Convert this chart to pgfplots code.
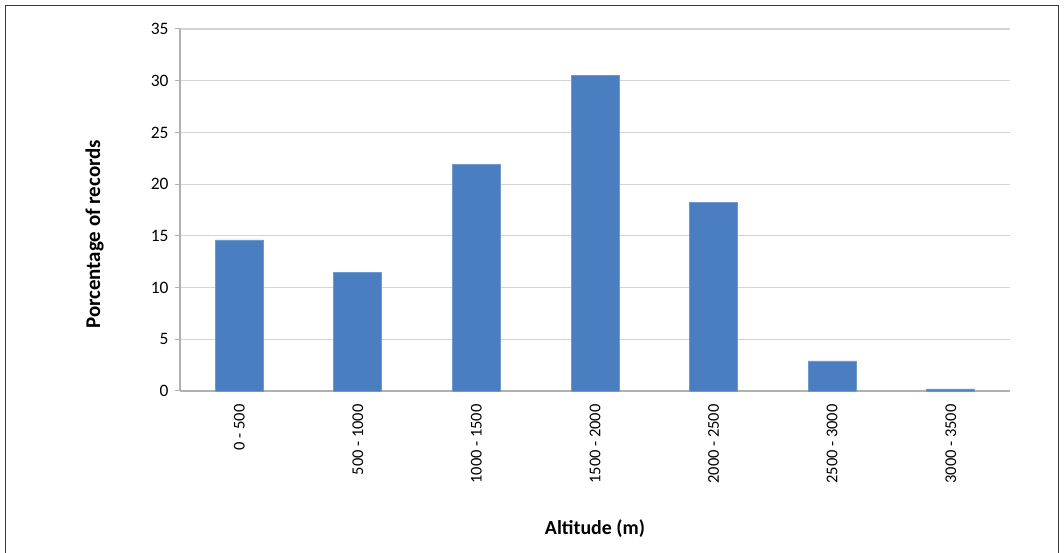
\documentclass[border=0pt]{standalone}
\usepackage{pgfplots}
\pgfplotsset{compat=1.18}
\usepackage{fontspec}
\setmainfont{Carlito}
\definecolor{barblue}{HTML}{4A7EC1}
\definecolor{baredge}{HTML}{6F98CF}
\definecolor{gridgray}{HTML}{D4D4D4}
\definecolor{axisgray}{HTML}{B0B0B0}
\definecolor{framegray}{HTML}{3A3A3A}
\begin{document}
\begin{tikzpicture}[x=1bp,y=1bp]
\clip (0,0) rectangle (1064,553);
\fill[white] (0,0) rectangle (1064,553);
% outer chart frame
\draw[framegray, line width=1.8bp] (5.5,-20) rectangle (1058.5,547.5);
\begin{axis}[
  at={(180bp,162bp)}, anchor=south west,
  scale only axis, width=830bp, height=362bp,
  xmin=-0.5, xmax=6.5, ymin=0, ymax=35,
  ytick={0,5,...,35},
  xtick={0,...,6},
  xticklabels={0 - 500, 500 - 1000, 1000 - 1500, 1500 - 2000, 2000 - 2500, 2500 - 3000, 3000 - 3500},
  major x tick style={draw=none},
  extra x ticks={-0.5,0.5,...,6.5},
  extra x tick labels={},
  extra x tick style={major tick length=5bp, tick style={draw=axisgray, line width=1bp}, grid=none},
  x tick label style={rotate=90, anchor=east, font=\fontsize{16.5}{16.5}\selectfont, xshift=-5bp},
  y tick label style={font=\fontsize{17.5}{17.5}\selectfont, xshift=-3bp},
  /pgf/number format/assume math mode=true,
  axis x line*=bottom, axis y line*=left,
  axis line style={draw=axisgray, line width=1.2bp},
  tick align=outside,
  major tick length=5bp,
  y tick style={draw=axisgray, line width=1bp},
  ymajorgrids, grid style={draw=gridgray, line width=1.2bp},
  ylabel={\bfseries Porcentage of records},
  ylabel style={font=\fontsize{21}{21}\selectfont, at={(axis description cs:-0.103,0.433)}, anchor=center, rotate=0},
  xlabel={\bfseries Altitude (m)},
  xlabel style={font=\fontsize{20}{20}\selectfont, at={(axis description cs:0.5,-0.381)}, anchor=center},
  ybar, bar width=48bp,
  clip=false,
]
\addplot[fill=barblue, draw=baredge, line width=0.8bp] coordinates {
  (0,14.6) (1,11.5) (2,21.9) (3,30.5) (4,18.2) (5,2.9) (6,0.2)
};
\end{axis}
\end{tikzpicture}
\end{document}
